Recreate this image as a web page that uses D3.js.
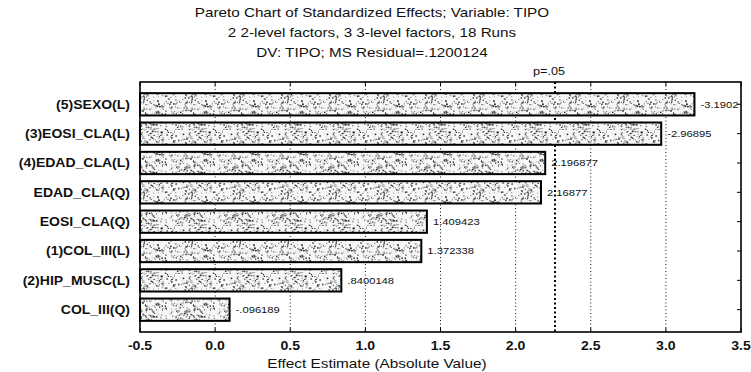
<!DOCTYPE html>
<html>
<head>
<meta charset="utf-8">
<script src="https://cdn.jsdelivr.net/npm/d3@7"></script>
<style>
  body { margin: 0; background: white; }
  svg { display: block; font-family: Arial, "Liberation Sans", sans-serif; }
</style>
</head>
<body>
<div id="chart"></div>
<script>
const titleLines = [
  "Pareto Chart of Standardized Effects; Variable: TIPO",
  "2 2-level factors, 3 3-level factors, 18 Runs",
  "DV: TIPO; MS Residual=.1200124"
];
const effects = ["(5)SEXO(L)", "(3)EOSI_CLA(L)", "(4)EDAD_CLA(L)", "EDAD_CLA(Q)",
  "EOSI_CLA(Q)", "(1)COL_III(L)", "(2)HIP_MUSC(L)", "COL_III(Q)"];
const absValues = [3.1902, 2.96895, 2.196877, 2.16877, 1.409423, 1.372338, 0.8400148, 0.096189];
const valueLabels = ["-3.1902", "-2.96895", "2.196877", "2.16877", "1.409423", "1.372338", ".8400148", "-.096189"];
const xTicks = [-0.5, 0.0, 0.5, 1.0, 1.5, 2.0, 2.5, 3.0, 3.5];
const pCritical = 2.262;

const W = 751, H = 372;
const margin = { top: 82, right: 10, bottom: 40, left: 140 };
const innerW = W - margin.left - margin.right;
const innerH = H - margin.top - margin.bottom;

// the scanned original has wide lettering: stretch text horizontally
function stretch(sel, k) {
  sel.each(function () {
    const len = this.getComputedTextLength();
    d3.select(this)
      .attr("textLength", len * k)
      .attr("lengthAdjust", "spacingAndGlyphs");
  });
}

const svg = d3.select("#chart").append("svg")
  .attr("width", W).attr("height", H);

// stipple texture for the bars (deterministic dot scatter)
const defs = svg.append("defs");
const pat = defs.append("pattern")
  .attr("id", "stipple")
  .attr("patternUnits", "userSpaceOnUse")
  .attr("width", 48).attr("height", 48);
pat.append("rect").attr("width", 48).attr("height", 48).attr("fill", "#f7f7f7");
let seed = 17;
const rnd = () => { seed = (seed * 9301 + 49297) % 233280; return seed / 233280; };
for (let i = 0; i < 330; i++) {
  pat.append("rect")
    .attr("x", rnd() * 48).attr("y", rnd() * 48)
    .attr("width", 0.7 + rnd() * 1.0).attr("height", 0.7 + rnd() * 0.9)
    .attr("fill", rnd() < 0.5 ? "#2a2a2a" : "#888");
}

// title
svg.append("g").selectAll("text")
  .data(titleLines)
  .join("text")
  .attr("x", 372)
  .attr("y", (d, i) => 17 + i * 20)
  .attr("text-anchor", "middle")
  .attr("font-size", 13)
  .attr("fill", "#111")
  .text(d => d)
  .call(stretch, 1.17);

const g = svg.append("g")
  .attr("transform", `translate(${margin.left},${margin.top})`);

const x = d3.scaleLinear().domain([-0.5, 3.5]).range([0, innerW]);
const y = d3.scaleBand().domain(effects).range([0, innerH])
  .paddingInner(0.24).paddingOuter(0.38);

// dotted grid lines
g.append("g").selectAll("line")
  .data(xTicks.slice(1, -1))
  .join("line")
  .attr("x1", d => x(d)).attr("x2", d => x(d))
  .attr("y1", 0).attr("y2", innerH)
  .attr("stroke", "#111")
  .attr("stroke-width", 1)
  .attr("stroke-dasharray", "1,2.5");

// p=.05 line
g.append("line")
  .attr("x1", x(pCritical)).attr("x2", x(pCritical))
  .attr("y1", 0).attr("y2", innerH)
  .attr("stroke", "#000")
  .attr("stroke-width", 2)
  .attr("stroke-dasharray", "2,2.5");

svg.append("text")
  .attr("x", margin.left + x(pCritical) - 22)
  .attr("y", 75)
  .attr("font-size", 11)
  .attr("fill", "#111")
  .text("p=.05")
  .call(stretch, 1.15);

// bars
g.append("g").selectAll("rect")
  .data(effects)
  .join("rect")
  .attr("x", x(-0.5))
  .attr("y", d => y(d))
  .attr("width", (d, i) => x(absValues[i]) - x(-0.5))
  .attr("height", y.bandwidth())
  .attr("fill", "url(#stipple)")
  .attr("stroke", "#000")
  .attr("stroke-width", 2);

// value labels
g.append("g").selectAll("text")
  .data(effects)
  .join("text")
  .attr("x", (d, i) => x(absValues[i]) + 6)
  .attr("y", d => y(d) + y.bandwidth() / 2)
  .attr("dy", "0.35em")
  .attr("font-size", 9.5)
  .attr("fill", "#111")
  .text((d, i) => valueLabels[i])
  .call(stretch, 1.18);

// frame
g.append("rect")
  .attr("width", innerW).attr("height", innerH)
  .attr("fill", "none")
  .attr("stroke", "#000")
  .attr("stroke-width", 1.6);

// small inward ticks on frame
const tickLen = 4;
g.append("g").selectAll("line")
  .data(xTicks)
  .join("line")
  .attr("x1", d => x(d)).attr("x2", d => x(d))
  .attr("y1", innerH).attr("y2", innerH - tickLen)
  .attr("stroke", "#000");
g.append("g").selectAll("line")
  .data(xTicks)
  .join("line")
  .attr("x1", d => x(d)).attr("x2", d => x(d))
  .attr("y1", 0).attr("y2", tickLen)
  .attr("stroke", "#000");
g.append("g").selectAll("line")
  .data(effects)
  .join("line")
  .attr("x1", innerW).attr("x2", innerW - tickLen)
  .attr("y1", d => y(d) + y.bandwidth() / 2)
  .attr("y2", d => y(d) + y.bandwidth() / 2)
  .attr("stroke", "#000");

// x axis labels
g.append("g").selectAll("text")
  .data(xTicks)
  .join("text")
  .attr("x", d => x(d))
  .attr("y", innerH + 18)
  .attr("text-anchor", "middle")
  .attr("font-size", 13)
  .attr("font-weight", "bold")
  .attr("fill", "#111")
  .text(d => d.toFixed(1))
  .call(stretch, 1.08);

// category labels
g.append("g").selectAll("text")
  .data(effects)
  .join("text")
  .attr("x", -10)
  .attr("y", d => y(d) + y.bandwidth() / 2)
  .attr("dy", "0.35em")
  .attr("text-anchor", "end")
  .attr("font-size", 12.5)
  .attr("font-weight", "bold")
  .attr("fill", "#111")
  .text(d => d)
  .call(stretch, 1.12);

// x axis title
svg.append("text")
  .attr("x", 377)
  .attr("y", 368)
  .attr("text-anchor", "middle")
  .attr("font-size", 13)
  .attr("fill", "#111")
  .text("Effect Estimate (Absolute Value)")
  .call(stretch, 1.18);
</script>
</body>
</html>
